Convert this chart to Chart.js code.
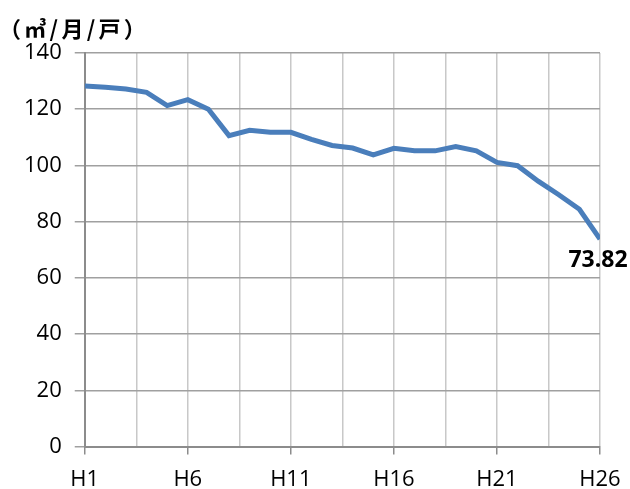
<!DOCTYPE html>
<html lang="ja">
<head>
<meta charset="utf-8">
<title>一戸当たり使用水量</title>
<script src="https://cdn.jsdelivr.net/npm/chart.js@4/dist/chart.umd.min.js"></script>
<style>
  html, body { margin: 0; padding: 0; background: #fff; }
  #wrap { position: relative; width: 630px; height: 489px; }
</style>
</head>
<body>
<div id="wrap"><canvas id="usageChart"></canvas></div>
<script>
// 年度（平成）
const years = [
  'H1', 'H2', 'H3', 'H4', 'H5', 'H6', 'H7', 'H8', 'H9', 'H10',
  'H11', 'H12', 'H13', 'H14', 'H15', 'H16', 'H17', 'H18', 'H19', 'H20',
  'H21', 'H22', 'H23', 'H24', 'H25', 'H26'
];

// 一戸当たり月平均使用水量（㎥/月/戸）
const usage = [
  128.3, 127.8, 127.2, 126.0, 121.3, 123.4, 120.0, 110.6, 112.5, 111.8,
  111.8, 109.3, 107.1, 106.2, 103.8, 106.1, 105.2, 105.2, 106.7, 105.2,
  101.1, 99.9, 94.4, 89.6, 84.4, 73.82
];

// 縦軸の目盛
const yTicks = [0, 20, 40, 60, 80, 100, 120, 140];

const unitText = '（㎥/月/戸）';
const labelEvery = 5;     // 横軸ラベルは5年ごと
const gridEvery = 2.5;    // 縦グリッドは2.5年ごと

function isLabeled(v) {
  return Number.isInteger(v) && (v - 1) % labelEvery === 0;
}

// 左上の単位表示
const unitLabel = {
  id: 'unitLabel',
  afterDraw(chart) {
    const ctx = chart.ctx;
    ctx.save();
    ctx.font = 'bold 22px "Noto Sans CJK JP"';
    ctx.letterSpacing = '3.3px';
    ctx.fillStyle = '#000';
    ctx.textAlign = 'left';
    ctx.textBaseline = 'middle';
    ctx.fillText(unitText, -1, 29);
    ctx.restore();
  }
};

// 最終年度の値ラベル
const lastValueLabel = {
  id: 'lastValueLabel',
  afterDatasetsDraw(chart) {
    const meta = chart.getDatasetMeta(0);
    const pt = meta.data[meta.data.length - 1];
    const ctx = chart.ctx;
    ctx.save();
    ctx.font = 'bold 23px "Open Sans"';
    ctx.fillStyle = '#000';
    ctx.textAlign = 'center';
    ctx.textBaseline = 'middle';
    ctx.fillText(usage[usage.length - 1].toFixed(2), pt.x - 2, pt.y + 21);
    ctx.restore();
  }
};

new Chart(document.getElementById('usageChart'), {
  type: 'line',
  data: {
    datasets: [{
      data: usage.map((v, i) => ({ x: i + 1, y: v })),
      borderColor: '#4a7ebb',
      borderWidth: 5,
      pointRadius: 0,
      tension: 0,
      fill: false
    }]
  },
  options: {
    responsive: true,
    maintainAspectRatio: false,
    animation: false,
    layout: { padding: { top: 53, left: 11, right: 30, bottom: -16 } },
    plugins: {
      legend: { display: false },
      tooltip: { enabled: false },
      title: { display: false }
    },
    scales: {
      x: {
        type: 'linear',
        min: 1,
        max: years.length,
        afterBuildTicks(scale) {
          const t = [];
          for (let v = 1; v <= years.length; v += gridEvery) t.push({ value: v });
          scale.ticks = t;
        },
        afterFit(scale) {
          // 右端ラベルのはみ出し分は右余白で吸収する
          scale.paddingRight = 0;
        },
        ticks: {
          autoSkip: false,
          maxRotation: 0,
          padding: 12,
          color: '#000',
          font: { family: '"Open Sans"', size: 22 },
          callback: v => isLabeled(v) ? years[v - 1] : ''
        },
        grid: {
          color: '#c8c8c8',
          lineWidth: 1.5,
          tickLength: 8,
          tickColor: ctx => isLabeled(ctx.tick.value) ? '#8c8c8c' : 'rgba(0,0,0,0)'
        },
        border: { color: '#8c8c8c', width: 2 }
      },
      y: {
        min: 0,
        max: 140,
        afterBuildTicks(scale) {
          scale.ticks = yTicks.map(v => ({ value: v }));
        },
        ticks: {
          padding: 13,
          color: '#000',
          font: { family: '"Open Sans"', size: 22 }
        },
        grid: {
          color: '#a0a0a0',
          lineWidth: 1.5,
          tickLength: 10
        },
        border: { color: '#8c8c8c', width: 2 }
      }
    }
  },
  plugins: [unitLabel, lastValueLabel]
});
</script>
</body>
</html>
